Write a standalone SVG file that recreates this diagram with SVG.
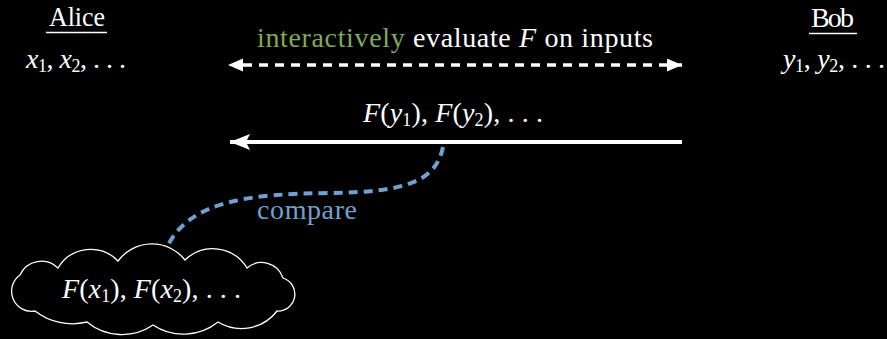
<svg xmlns="http://www.w3.org/2000/svg" width="887" height="339" viewBox="0 0 887 339">
<style>
text{font-family:"Liberation Serif","Times New Roman",serif;font-size:28px;fill:#fff}
.it{font-style:italic}
.sub{font-size:18px}
.green{fill:#7eab57}
.blue{fill:#6fa2d2}
.ul{stroke:#fff;stroke-width:1.6}
</style>
<defs>
<marker id="hd" markerUnits="userSpaceOnUse" markerWidth="16" markerHeight="14" refX="15" refY="6.5" orient="auto-start-reverse" viewBox="0 0 16 14"><path d="M0,0 L15,6.5 L0,13 Z" fill="#fff"/></marker>
<marker id="hs" markerUnits="userSpaceOnUse" markerWidth="21" markerHeight="17" refX="20" refY="8" orient="auto" viewBox="0 0 21 17"><path d="M0,0 L20,8 L0,16 L4,8 Z" fill="#fff"/></marker>
</defs>
<rect width="887" height="339" fill="#000"/>
<g id="alice">
<text x="49" y="26" textLength="56" lengthAdjust="spacingAndGlyphs">Alice</text>
<line class="ul" x1="46" y1="32.5" x2="107" y2="32.5"/>
<text x="26" y="68" textLength="100"><tspan class="it">x</tspan><tspan class="sub" dy="4">1</tspan><tspan dy="-4">, </tspan><tspan class="it">x</tspan><tspan class="sub" dy="4">2</tspan><tspan dy="-4">, . . .</tspan></text>
</g>
<g id="bob">
<text x="811" y="27" textLength="43">Bob</text>
<line class="ul" x1="809" y1="33.5" x2="857" y2="33.5"/>
<text x="783" y="68" textLength="102"><tspan class="it">y</tspan><tspan class="sub" dy="4">1</tspan><tspan dy="-4">, </tspan><tspan class="it">y</tspan><tspan class="sub" dy="4">2</tspan><tspan dy="-4">, . . .</tspan></text>
</g>
<g id="cloud">
<path d="M35,311 A20,20 0 0 1 20,275 A23.6,23.6 0 0 1 58,268 A37.9,37.9 0 0 1 118,261 A42.2,42.2 0 0 1 185,260 A40,40 0 0 1 247,268 A22.5,22.5 0 0 1 283,278 A16.9,16.9 0 0 1 277,311 A45,45 0 0 1 218,322 A55,55 0 0 1 153,325 A55,55 0 0 1 87,322 A61,61 0 0 1 35,311 Z" fill="#000" stroke="#fff" stroke-width="1.3"/>
<text x="62" y="298" textLength="179"><tspan class="it">F</tspan>(<tspan class="it">x</tspan><tspan class="sub" dy="4">1</tspan><tspan dy="-4">), </tspan><tspan class="it">F</tspan>(<tspan class="it">x</tspan><tspan class="sub" dy="4">2</tspan><tspan dy="-4">), . . .</tspan></text>
</g>
<g id="connectors">
<line x1="243" y1="65" x2="682" y2="65" stroke="#fff" stroke-width="3.5" stroke-dasharray="9,7" marker-end="url(#hd)"/>
<path d="M228,65 L243,58.5 L243,71.5 Z" fill="#fff"/>
<line x1="682" y1="142" x2="230" y2="142" stroke="#fff" stroke-width="4" marker-end="url(#hs)"/>
<path d="M443,147 C436,180 410,192 330,193 C250,194 190,200 167,247" fill="none" stroke="#6fa2d2" stroke-width="4" stroke-dasharray="9,6"/>
<text x="257" y="47" textLength="396"><tspan class="green">interactively</tspan> evaluate <tspan class="it">F</tspan> on inputs</text>
<text x="363" y="122" textLength="180"><tspan class="it">F</tspan>(<tspan class="it">y</tspan><tspan class="sub" dy="4">1</tspan><tspan dy="-4">), </tspan><tspan class="it">F</tspan>(<tspan class="it">y</tspan><tspan class="sub" dy="4">2</tspan><tspan dy="-4">), . . .</tspan></text>
<text class="blue" x="257" y="219" textLength="100">compare</text>
</g>
</svg>
